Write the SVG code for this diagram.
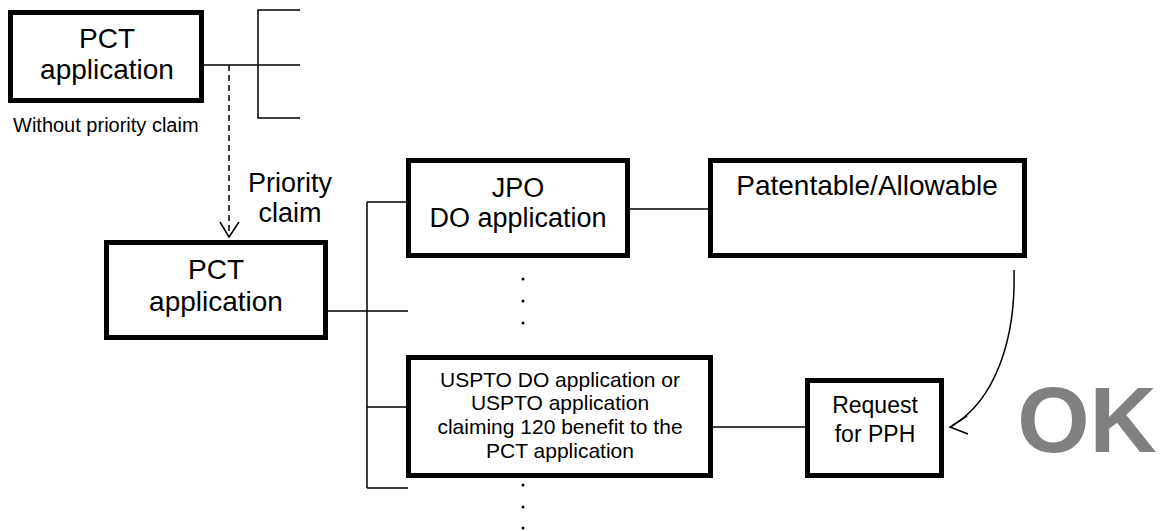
<svg xmlns="http://www.w3.org/2000/svg" width="1163" height="531" viewBox="0 0 1163 531">
<style>
.box{fill:#fff;stroke:#000;stroke-width:5}
.t{font-family:"Liberation Sans",Arial,sans-serif;fill:#000;text-anchor:middle}
.c{fill:none;stroke:#000;stroke-width:1.5}
.d{fill:#000}
</style>
<rect width="1163" height="531" fill="#fff"/>
<g id="connectors">
<path class="c" d="M204,65 H300 M300,10 H258 V118 H300"/>
<path class="c" d="M229,65 V236" stroke-dasharray="6,4"/>
<path class="c" d="M220,222 L229,237 L239,222"/>
<path class="c" d="M328,311 H408 M367,202 V488 M367,202 H406 M367,407 H406 M367,488 H408"/>
<path class="c" d="M630,209 H708"/>
<path class="c" d="M713,427 H805"/>
<path class="c" d="M1014,270 C1016,340 995,400 952,426"/>
<path class="c" d="M967,416 L950,427 L968,434"/>
</g>
<g id="pct-top">
<rect class="box" x="10.5" y="12.5" width="191" height="88"/>
<text class="t" x="107" y="48" font-size="28">PCT</text>
<text class="t" x="107" y="79" font-size="28">application</text>
</g>
<g id="no-priority-label">
<text class="t" x="13" y="132" font-size="20" text-anchor="start" style="text-anchor:start">Without priority claim</text>
</g>
<g id="priority-label">
<text class="t" x="290" y="192" font-size="27">Priority</text>
<text class="t" x="290" y="222" font-size="27">claim</text>
</g>
<g id="pct-mid">
<rect class="box" x="106.5" y="242.5" width="219" height="95"/>
<text class="t" x="216" y="279" font-size="28">PCT</text>
<text class="t" x="216" y="311" font-size="28">application</text>
</g>
<g id="jpo">
<rect class="box" x="408.5" y="160.5" width="219" height="95"/>
<text class="t" x="518" y="197" font-size="27">JPO</text>
<text class="t" x="518" y="227" font-size="27">DO application</text>
</g>
<g id="patentable">
<rect class="box" x="710.5" y="160.5" width="314" height="95"/>
<text class="t" x="867" y="195" font-size="28">Patentable/Allowable</text>
</g>
<g id="uspto">
<rect class="box" x="408.5" y="357.5" width="302" height="118"/>
<text class="t" x="560" y="387" font-size="21">USPTO DO application or</text>
<text class="t" x="560" y="410" font-size="21">USPTO application</text>
<text class="t" x="560" y="434" font-size="21">claiming 120 benefit to the</text>
<text class="t" x="560" y="458" font-size="21">PCT application</text>
</g>
<g id="request">
<rect class="box" x="807.5" y="380.5" width="134" height="95"/>
<text class="t" x="875" y="413" font-size="23">Request</text>
<text class="t" x="875" y="442" font-size="23">for PPH</text>
</g>
<g id="ok">
<text class="t" x="1087" y="452" font-size="93" font-weight="bold" style="fill:#808080">OK</text>
</g>
<g id="dots">
<circle class="d" cx="523" cy="279" r="1.5"/>
<circle class="d" cx="523" cy="301" r="1.5"/>
<circle class="d" cx="523" cy="323" r="1.5"/>
<circle class="d" cx="523" cy="485" r="1.5"/>
<circle class="d" cx="523" cy="507" r="1.5"/>
<circle class="d" cx="523" cy="528" r="1.5"/>
</g>
</svg>
